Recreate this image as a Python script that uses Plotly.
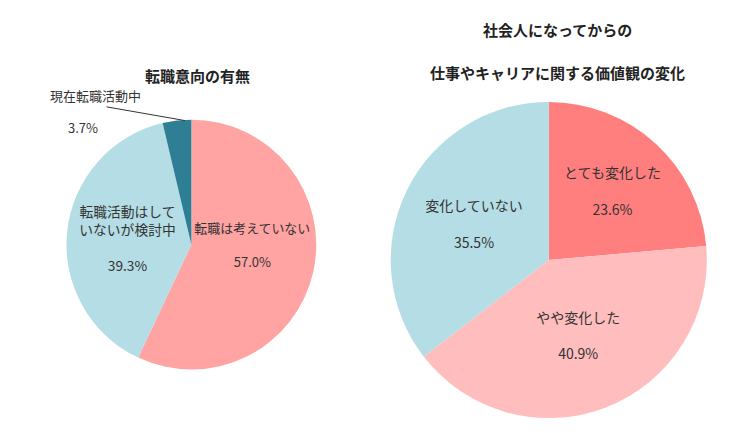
import plotly.graph_objects as go

left_labels = ["転職は考えていない", "転職活動はして<br>いないが検討中", "現在転職活動中"]
left_values = [57.0, 39.3, 3.7]
left_colors = ["#FFA3A3", "#B5DDE5", "#2E7F94"]

right_labels = ["とても変化した", "やや変化した", "変化していない"]
right_values = [23.6, 40.9, 35.5]
right_colors = ["#FF7F7F", "#FFBDBD", "#B5DDE5"]

font = "Noto Sans CJK JP"

fig = go.Figure()
fig.add_trace(go.Pie(
    labels=left_labels, values=left_values, sort=False, direction="clockwise", rotation=0,
    marker=dict(colors=left_colors),
    texttemplate=["%{label}<br><br>%{value:.1f}%", "%{label}<br><br>%{value:.1f}%", ""],
    textposition="inside", insidetextorientation="horizontal",
    textfont=dict(size=14, color="#333333"),
    domain=dict(x=[0.078, 0.411], y=[0.165, 0.742]), hoverinfo="none",
))
fig.add_trace(go.Pie(
    labels=right_labels, values=right_values, sort=False, direction="clockwise", rotation=0,
    marker=dict(colors=right_colors),
    texttemplate="%{label}<br><br>%{value:.1f}%",
    textposition="inside", insidetextorientation="horizontal",
    textfont=dict(size=14, color="#333333"),
    domain=dict(x=[0.51, 0.932], y=[0.053, 0.783]), hoverinfo="none",
))

def note(x, y, text, size=13, bold=False):
    fig.add_annotation(x=x, y=y, xref="paper", yref="paper", showarrow=False,
                       xanchor="center", yanchor="middle",
                       text=f"<b>{text}</b>" if bold else text,
                       font=dict(size=size, color="#222222" if bold else "#333333"))

note(0.253, 0.843, "転職意向の有無", 15, True)
note(0.732, 0.95, "社会人になってからの", 15, True)
note(0.732, 0.85, "仕事やキャリアに関する価値観の変化", 15, True)
# leader line for the small slice
fig.add_annotation(x=0.236, y=0.74, xref="paper", yref="paper", ax=-80, ay=-14,
                   text="", showarrow=True, arrowhead=0, arrowwidth=1, arrowcolor="#333333")
note(0.117, 0.797, "現在転職活動中")
note(0.1, 0.725, "3.7%")

fig.update_layout(width=750, height=433, margin=dict(l=0, r=0, t=0, b=0),
                  showlegend=False, paper_bgcolor="white", font=dict(family=font))
fig.write_html("out.html")
